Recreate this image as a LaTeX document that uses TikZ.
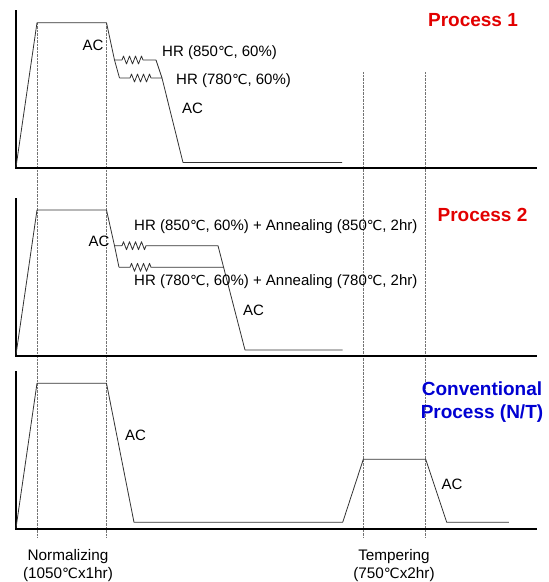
\documentclass[tikz,border=0pt]{standalone}
\usepackage{fontspec}
\setmainfont{Liberation Sans}
\newfontfamily\degfont[Scale=0.92]{DejaVu Sans}
\usetikzlibrary{decorations.pathmorphing}
\newcommand{\degc}{{\degfont ℃}}
\definecolor{procred}{RGB}{226,0,0}
\definecolor{procblue}{RGB}{0,0,210}
\tikzset{
    axisline/.style={line width=1.6pt,black},
    profile/.style={line width=0.8pt,black!80,line join=round},
    guideline/.style={line width=0.6pt,black!55,dash pattern=on 0.7pt off 0.7pt},
    hrzigzag/.style={decoration={zigzag,segment length=6pt,amplitude=4pt}},
    proclabel/.style={font=\fontsize{15}{17}\selectfont,inner sep=0pt},
    proctitle/.style={font=\fontsize{19}{23}\selectfont\bfseries,inner sep=0pt,align=center},
    steplabel/.style={font=\fontsize{15.3}{17.5}\selectfont,inner sep=0pt,align=center}
}

\begin{document}
\begin{tikzpicture}[x=1pt,y=-1pt]
    \useasboundingbox (0,0) rectangle (549,582);
    % guides for normalizing and tempering
    \draw[guideline] (37,22.7) -- (37,537);
    \draw[guideline] (106.5,22.7) -- (106.5,537);
    \draw[guideline] (363.3,72) -- (363.3,537);
    \draw[guideline] (425.7,72) -- (425.7,537);
    % process 1
    \draw[axisline] (16,10) -- (16,168) -- (537,168);
    \draw[profile] (16,167) -- (37,22.7) -- (106.5,22.7) -- (114.5,60) -- (119.5,78);
    \draw[profile] (114.5,60) -- (122,60) decorate[hrzigzag]{-- (145,60)} -- (156,60) -- (162,78);
    \draw[profile] (119.5,78) -- (130,78) decorate[hrzigzag]{-- (153,78)} -- (162,78) -- (183,162.5) -- (342,162.5);
    \node[proclabel] (p1acfirst) at (93,45) {AC};
    \node[proclabel,anchor=west] (p1hrhigh) at (162,53) {HR (850\degc, 60\%)};
    \node[proclabel,anchor=west] (p1hrlow) at (176,81) {HR (780\degc, 60\%)};
    \node[proclabel,anchor=west] (p1acsecond) at (182,108) {AC};
    \node[proctitle,text=procred] (p1title) at (473,20) {Process 1};
    % process 2
    \draw[axisline] (16,198) -- (16,355.7) -- (537,355.7);
    \draw[profile] (16,354.7) -- (37,210) -- (106.5,210) -- (114.5,245.7) -- (119,267.3);
    \draw[profile] (114.5,245.7) -- (122,245.7) decorate[hrzigzag]{-- (147,245.7)} -- (218,245.7) -- (223.6,267.3);
    \draw[profile] (119,267.3) -- (130,267.3) decorate[hrzigzag]{-- (153,267.3)} -- (223.6,267.3) -- (245,350) -- (342.7,350);
    \node[proclabel] (p2acfirst) at (99,241) {AC};
    \node[proclabel,anchor=west] (p2hrhigh) at (134,226.7) {HR (850\degc, 60\%) + Annealing (850\degc, 2hr)};
    \node[proclabel,anchor=west] (p2hrlow) at (134,281.7) {HR (780\degc, 60\%) + Annealing (780\degc, 2hr)};
    \node[proclabel,anchor=west] (p2acsecond) at (243,310) {AC};
    \node[proctitle,text=procred] (p2title) at (482.5,215) {Process 2};
    % conventional process
    \draw[axisline] (16,371) -- (16,529) -- (537,529);
    \draw[profile] (16,528) -- (37,383.3) -- (106.5,383.3) -- (134,522.3) -- (342.7,522.3)
        -- (363.3,459.3) -- (425.7,459.3) -- (446.7,522.3) -- (508.8,522.3);
    \node[proclabel,anchor=west] (p3acfirst) at (125,435) {AC};
    \node[proclabel,anchor=west] (p3acsecond) at (441.5,484) {AC};
    \node[proctitle,text=procblue] (p3title) at (482,401.7) {Conventional\\Process (N/T)};
    % step labels
    \node[steplabel] (normlabel) at (68,565.3) {Normalizing\\(1050\degc x1hr)};
    \node[steplabel] (templabel) at (394,565.3) {Tempering\\(750\degc x2hr)};
\end{tikzpicture}
\end{document}
